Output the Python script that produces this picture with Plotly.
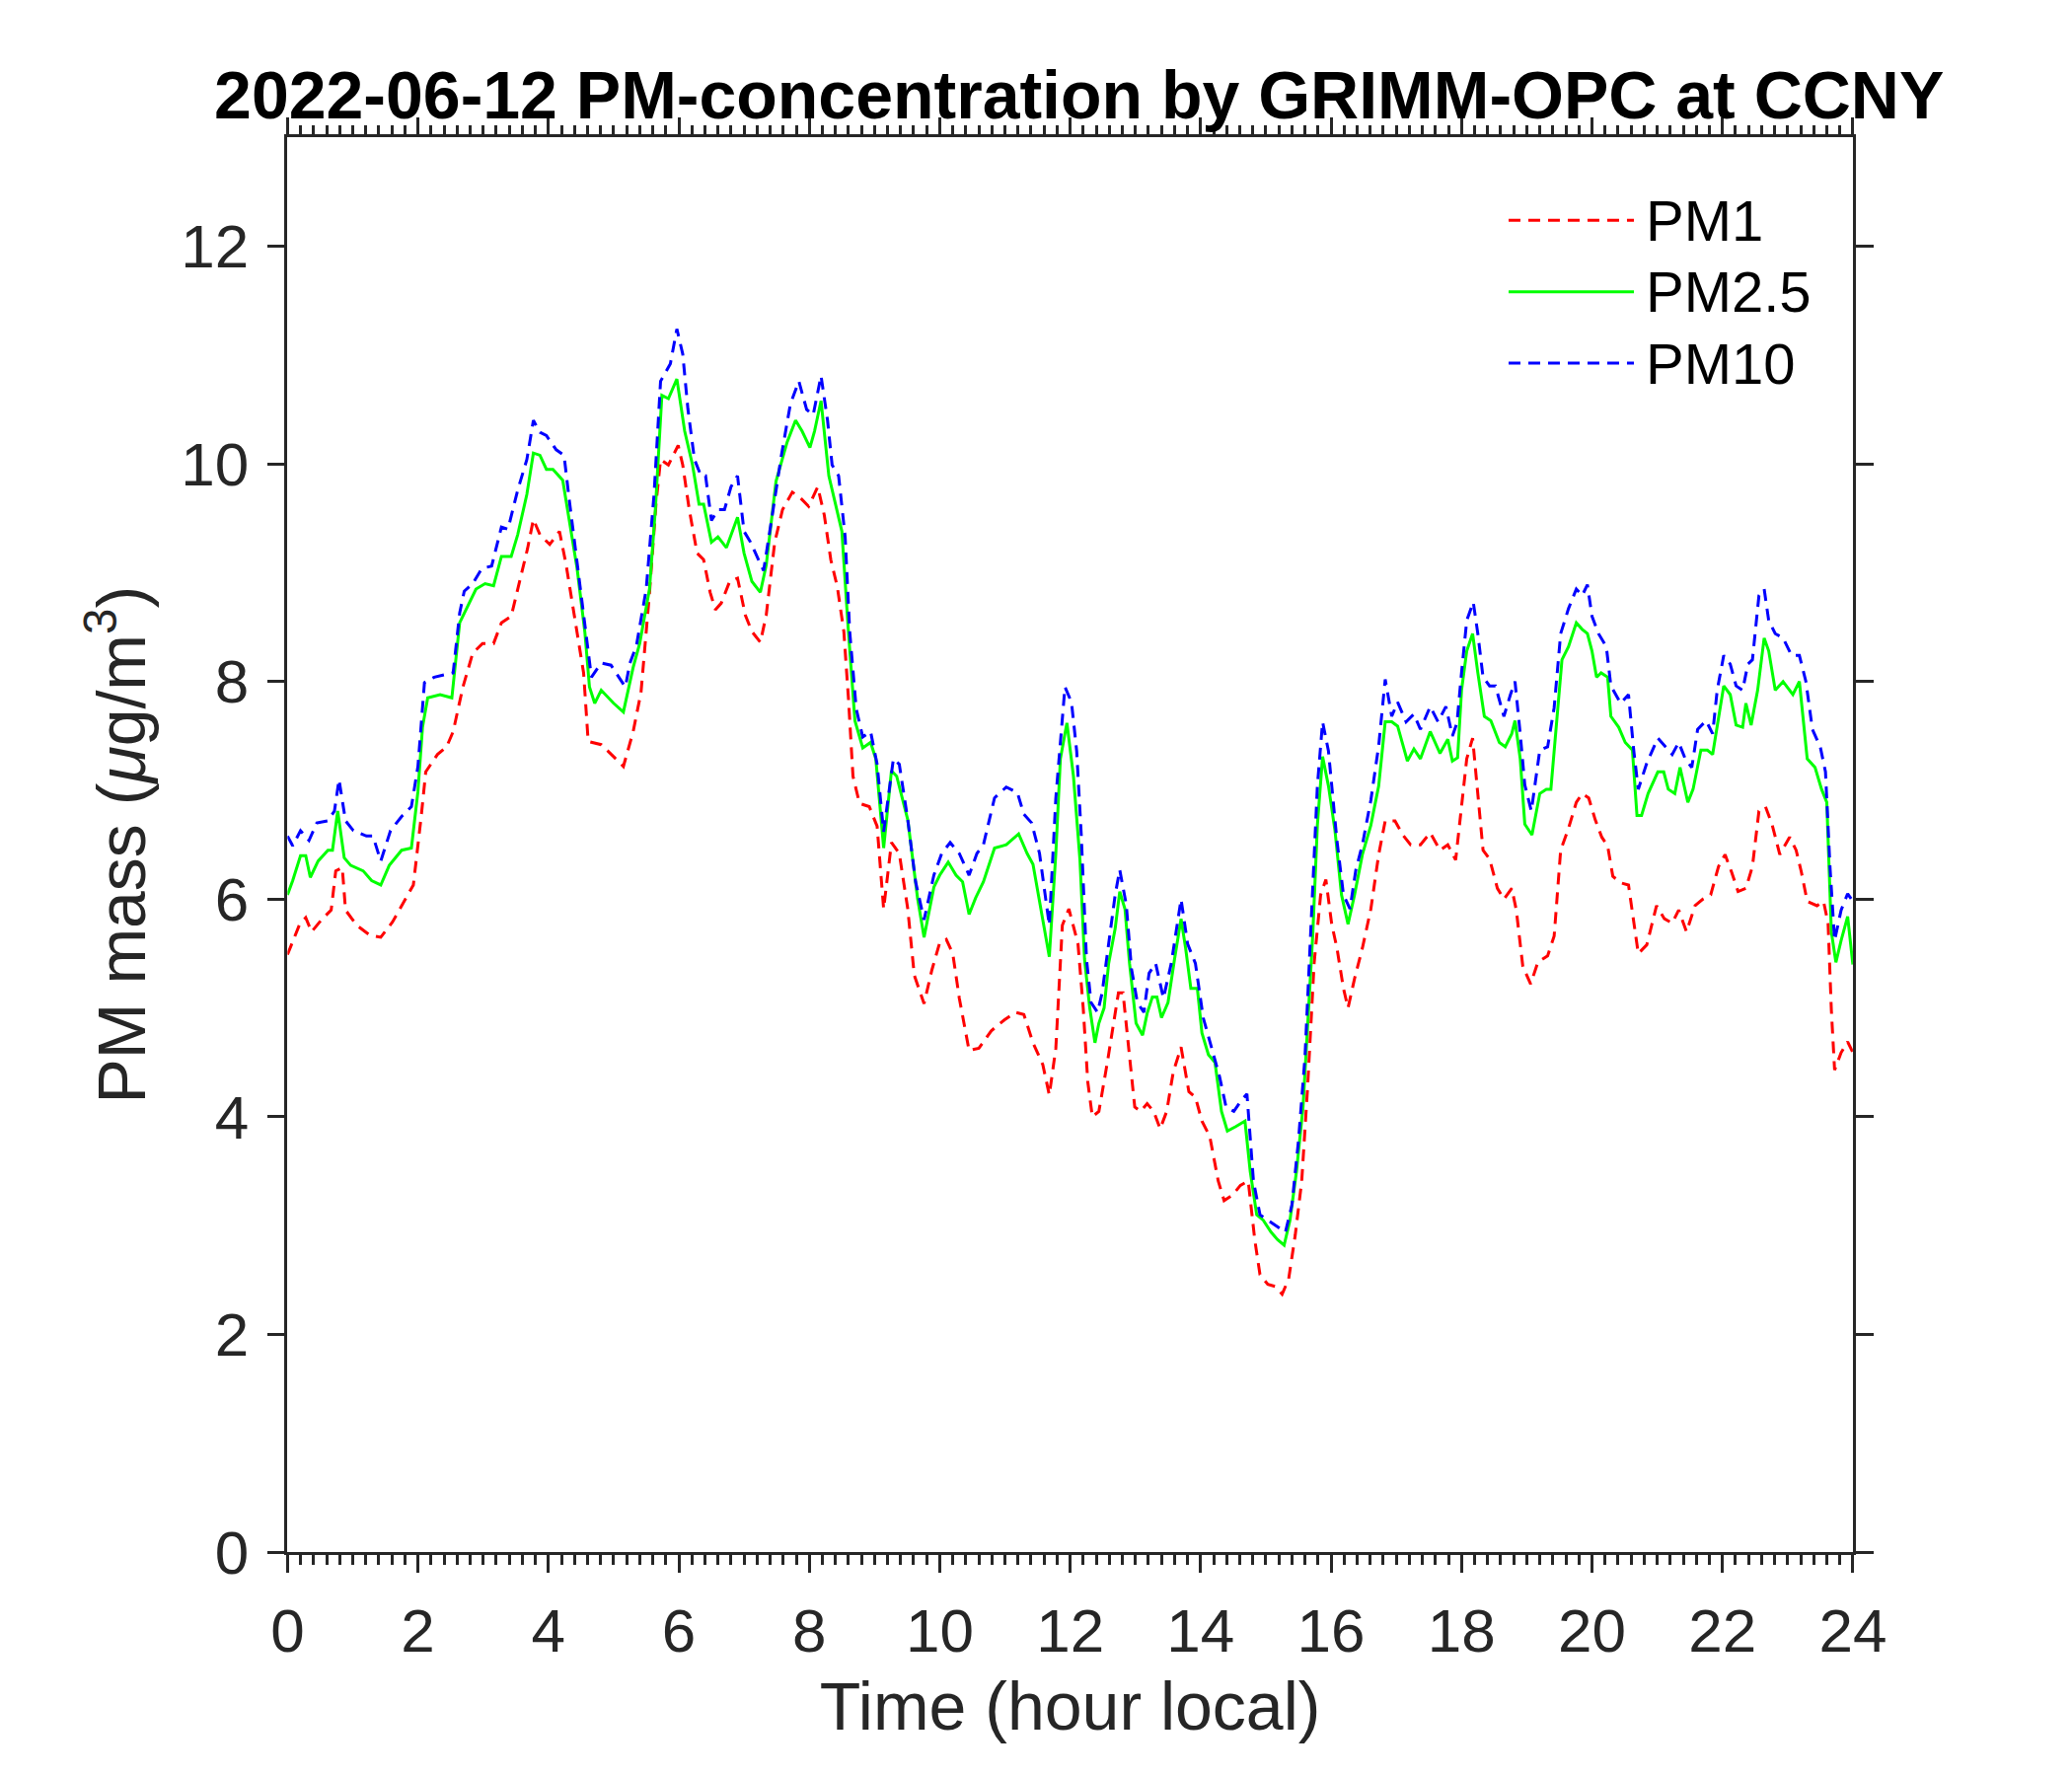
import plotly.graph_objects as go

# PM1 (red, dashed) - hour, ug/m3
t_pm1 = [0, 0.18, 0.28, 0.37, 0.52, 0.67, 0.74, 0.84, 0.89, 1.06, 1.26, 1.43, 1.61, 1.8, 1.93,
         2.05, 2.12, 2.3, 2.44, 2.54, 2.69, 2.84, 2.99, 3.16, 3.28, 3.43, 3.55, 3.68, 3.77, 3.87,
         4.02, 4.17, 4.27, 4.41, 4.54, 4.61, 4.81, 5.0, 5.15, 5.3, 5.42, 5.55, 5.65, 5.72, 5.84,
         5.99, 6.06, 6.16, 6.28, 6.38, 6.48, 6.56, 6.65, 6.78, 6.9, 7.02, 7.12, 7.25, 7.34, 7.47,
         7.59, 7.74, 7.86, 7.99, 8.13, 8.23, 8.33, 8.43, 8.53, 8.6, 8.67, 8.77, 8.92, 9.04, 9.14,
         9.26, 9.38, 9.51, 9.61, 9.76, 9.88, 10.0, 10.1, 10.2, 10.3, 10.45, 10.6, 10.79, 10.99,
         11.16, 11.29, 11.43, 11.58, 11.68, 11.78, 11.88, 11.98, 12.02, 12.12, 12.2, 12.27, 12.34,
         12.44, 12.57, 12.67, 12.74, 12.81, 12.89, 12.99, 13.08, 13.18, 13.28, 13.38, 13.48, 13.58,
         13.7, 13.82, 13.92, 14.02, 14.14, 14.27, 14.36, 14.49, 14.61, 14.73, 14.83, 14.91, 15.03,
         15.15, 15.25, 15.35, 15.45, 15.55, 15.64, 15.74, 15.84, 15.92, 16.01, 16.09, 16.19, 16.26,
         16.36, 16.48, 16.61, 16.73, 16.83, 16.98, 17.1, 17.22, 17.37, 17.52, 17.67, 17.79, 17.91,
         18.0, 18.08, 18.17, 18.25, 18.33, 18.43, 18.55, 18.65, 18.77, 18.84, 18.94, 19.06, 19.17,
         19.32, 19.42, 19.52, 19.64, 19.76, 19.85, 19.95, 20.05, 20.15, 20.24, 20.32, 20.44, 20.56,
         20.64, 20.71, 20.84, 20.99, 21.11, 21.23, 21.33, 21.45, 21.58, 21.7, 21.82, 21.94, 22.04,
         22.14, 22.24, 22.36, 22.46, 22.56, 22.66, 22.76, 22.88, 23.03, 23.13, 23.21, 23.3, 23.45,
         23.55, 23.62, 23.67, 23.72, 23.82, 23.92, 24.0]
pm1 = [5.49, 5.76, 5.83, 5.7, 5.81, 5.9, 6.26, 6.29, 5.9, 5.76, 5.67, 5.65, 5.79, 5.99, 6.13,
       6.76, 7.17, 7.33, 7.4, 7.54, 7.95, 8.26, 8.35, 8.35, 8.54, 8.6, 8.9, 9.22, 9.49, 9.35,
       9.26, 9.38, 9.08, 8.58, 8.08, 7.45, 7.42, 7.31, 7.22, 7.54, 7.9, 8.81, 9.63, 10.04, 9.99,
       10.17, 9.99, 9.58, 9.18, 9.12, 8.82, 8.66, 8.72, 8.92, 8.95, 8.61, 8.46, 8.36, 8.61, 9.28,
       9.58, 9.74, 9.69, 9.61, 9.79, 9.53, 9.12, 8.87, 8.46, 7.85, 7.13, 6.88, 6.85, 6.67, 5.91,
       6.52, 6.42, 5.91, 5.3, 5.04, 5.35, 5.6, 5.63, 5.5, 5.09, 4.61, 4.63, 4.79, 4.89,
       4.96, 4.94, 4.68, 4.48, 4.2, 4.63, 5.76, 5.91, 5.82, 5.59, 5.0, 4.32, 4.0,
       4.05, 4.5, 4.86, 5.14, 5.14, 4.68, 4.09, 4.05, 4.12, 4.05, 3.89, 4.05, 4.41,
       4.64, 4.23, 4.18, 3.96, 3.82, 3.41, 3.23, 3.28, 3.37, 3.41, 2.87, 2.55, 2.46,
       2.44, 2.37, 2.51, 2.91, 3.41, 4.27, 5.41, 6.04, 6.18, 5.77, 5.55, 5.18, 5.0,
       5.27, 5.55, 5.91, 6.41, 6.72, 6.72, 6.59, 6.5, 6.5, 6.61, 6.45, 6.5, 6.36,
       6.85, 7.29, 7.48, 6.97, 6.45, 6.37, 6.1, 6.0, 6.1, 5.9, 5.38, 5.22, 5.42,
       5.48, 5.66, 6.45, 6.65, 6.89, 6.97, 6.93, 6.73, 6.57, 6.49, 6.21, 6.15, 6.13,
       5.78, 5.5, 5.58, 5.94, 5.82, 5.78, 5.9, 5.7, 5.94, 6.0, 6.04, 6.3, 6.41,
       6.25, 6.07, 6.1, 6.3, 6.81, 6.85, 6.69, 6.41, 6.57, 6.45, 6.25, 5.98, 5.94,
       5.98, 5.78, 4.98, 4.43, 4.59, 4.69, 4.59]

# PM2.5 (green, solid)
t_pm25 = [0, 0.08, 0.2, 0.28, 0.35, 0.47, 0.62, 0.69, 0.77, 0.87, 0.97, 1.16, 1.29, 1.43, 1.56,
          1.75, 1.9, 2.0, 2.07, 2.15, 2.34, 2.52, 2.64, 2.74, 2.89, 3.03, 3.16, 3.28, 3.43, 3.53,
          3.67, 3.77, 3.87, 3.97, 4.07, 4.22, 4.32, 4.44, 4.56, 4.63, 4.71, 4.81, 5.0, 5.15, 5.3,
          5.4, 5.55, 5.64, 5.74, 5.84, 5.97, 6.09, 6.21, 6.31, 6.38, 6.5, 6.6, 6.73, 6.9, 7.0,
          7.12, 7.25, 7.34, 7.49, 7.66, 7.79, 7.89, 8.01, 8.08, 8.18, 8.3, 8.4, 8.5, 8.6, 8.7,
          8.82, 8.94, 9.02, 9.14, 9.26, 9.34, 9.51, 9.66, 9.76, 9.91, 10.0, 10.13, 10.25, 10.35,
          10.45, 10.55, 10.67, 10.84, 11.02, 11.21, 11.34, 11.43, 11.58, 11.68, 11.78, 11.85, 11.95,
          12.05, 12.15, 12.22, 12.3, 12.38, 12.44, 12.52, 12.59, 12.69, 12.76, 12.84, 12.91, 13.01,
          13.11, 13.18, 13.26, 13.33, 13.4, 13.5, 13.6, 13.7, 13.77, 13.85, 13.95, 14.02, 14.12,
          14.22, 14.32, 14.41, 14.54, 14.68, 14.76, 14.86, 14.96, 15.08, 15.18, 15.28, 15.37, 15.47,
          15.57, 15.64, 15.72, 15.79, 15.87, 15.96, 16.06, 16.16, 16.26, 16.36, 16.48, 16.61, 16.73,
          16.83, 16.93, 17.02, 17.17, 17.27, 17.37, 17.52, 17.67, 17.79, 17.86, 17.94, 18.0, 18.08,
          18.17, 18.25, 18.35, 18.45, 18.58, 18.67, 18.77, 18.82, 18.9, 18.97, 19.08, 19.2, 19.3,
          19.37, 19.44, 19.54, 19.64, 19.76, 19.85, 19.93, 20.0, 20.07, 20.14, 20.24, 20.29, 20.41,
          20.51, 20.62, 20.69, 20.76, 20.86, 21.01, 21.1, 21.17, 21.27, 21.35, 21.47, 21.55, 21.67,
          21.77, 21.85, 21.92, 22.02, 22.12, 22.21, 22.31, 22.36, 22.44, 22.54, 22.64, 22.71, 22.81,
          22.93, 23.08, 23.18, 23.3, 23.42, 23.52, 23.6, 23.67, 23.74, 23.82, 23.92, 24.0]
pm25 = [6.04, 6.17, 6.4, 6.4, 6.2, 6.35, 6.45, 6.45, 6.81, 6.38, 6.31, 6.26, 6.17, 6.13, 6.31,
        6.45, 6.47, 6.99, 7.58, 7.85, 7.88, 7.85, 8.54, 8.67, 8.85, 8.9, 8.88, 9.15, 9.15, 9.35,
        9.72, 10.1, 10.08, 9.95, 9.95, 9.85, 9.49, 9.04, 8.45, 7.95, 7.8, 7.92, 7.8, 7.72, 8.13,
        8.35, 8.85, 9.58, 10.63, 10.6, 10.78, 10.3, 9.99, 9.63, 9.63, 9.28, 9.33, 9.23, 9.51, 9.18,
        8.92, 8.82, 9.07, 9.84, 10.2, 10.4, 10.3, 10.15, 10.3, 10.58, 9.89, 9.63, 9.38, 8.46, 7.64,
        7.39, 7.44, 7.29, 6.47, 7.18, 7.13, 6.73, 6.01, 5.65, 6.11, 6.22, 6.34, 6.22, 6.16,
        5.86, 6.01, 6.16, 6.47, 6.5, 6.6, 6.42, 6.32, 5.81, 5.47, 6.42, 7.29, 7.62,
        7.13, 6.36, 5.45, 5.0, 4.68, 4.86, 5.0, 5.41, 5.73, 6.07, 5.91, 5.41, 4.86,
        4.75, 4.95, 5.1, 5.1, 4.91, 5.05, 5.45, 5.82, 5.55, 5.18, 5.18, 4.77, 4.57,
        4.5, 4.05, 3.87, 3.91, 3.96, 3.5, 3.1, 3.05, 2.94, 2.87, 2.82, 3.05, 3.5,
        4.09, 4.86, 5.68, 6.68, 7.31, 7.04, 6.63, 6.04, 5.77, 6.04, 6.41, 6.68, 7.04,
        7.63, 7.63, 7.59, 7.27, 7.38, 7.29, 7.54, 7.34, 7.47, 7.27, 7.3, 7.92, 8.28,
        8.44, 8.08, 7.68, 7.64, 7.44, 7.4, 7.52, 7.64, 7.29, 6.69, 6.59, 6.97, 7.01,
        7.01, 7.52, 8.2, 8.32, 8.54, 8.48, 8.44, 8.28, 8.04, 8.08, 8.04, 7.68, 7.58,
        7.44, 7.37, 6.77, 6.77, 6.97, 7.17, 7.17, 7.01, 6.97, 7.21, 6.89, 7.01, 7.37,
        7.37, 7.33, 7.6, 7.96, 7.88, 7.6, 7.58, 7.8, 7.6, 7.92, 8.4, 8.28, 7.92,
        8.0, 7.88, 8.0, 7.29, 7.21, 7.01, 6.89, 5.7, 5.42, 5.62, 5.84, 5.4]

# PM10 (blue, dashed)
t_pm10 = [0, 0.08, 0.2, 0.33, 0.45, 0.62, 0.72, 0.79, 0.89, 1.01, 1.21, 1.31, 1.43, 1.58, 1.75,
          1.9, 2.0, 2.1, 2.25, 2.39, 2.54, 2.64, 2.71, 2.84, 2.98, 3.13, 3.28, 3.38, 3.53, 3.67,
          3.77, 3.87, 3.97, 4.12, 4.24, 4.32, 4.46, 4.59, 4.66, 4.81, 4.96, 5.18, 5.25, 5.35, 5.5,
          5.62, 5.72, 5.87, 5.97, 6.06, 6.14, 6.24, 6.34, 6.41, 6.5, 6.6, 6.7, 6.8, 6.9, 7.0,
          7.1, 7.22, 7.3, 7.42, 7.57, 7.71, 7.84, 7.96, 8.06, 8.18, 8.28, 8.35, 8.45, 8.55, 8.62,
          8.72, 8.82, 8.94, 9.04, 9.14, 9.29, 9.38, 9.51, 9.63, 9.76, 9.91, 10.03, 10.16, 10.3,
          10.45, 10.57, 10.67, 10.84, 11.02, 11.19, 11.29, 11.41, 11.53, 11.68, 11.78, 11.92, 12.02,
          12.1, 12.17, 12.25, 12.32, 12.42, 12.49, 12.59, 12.69, 12.76, 12.86, 12.94, 13.03, 13.13,
          13.21, 13.31, 13.43, 13.55, 13.7, 13.8, 13.92, 14.04, 14.17, 14.29, 14.39, 14.51, 14.61,
          14.71, 14.81, 14.91, 15.03, 15.15, 15.3, 15.4, 15.5, 15.6, 15.69, 15.79, 15.87, 15.96,
          16.09, 16.19, 16.29, 16.38, 16.48, 16.61, 16.73, 16.83, 16.93, 17.02, 17.15, 17.27, 17.37,
          17.52, 17.64, 17.76, 17.86, 17.93, 18.0, 18.08, 18.18, 18.25, 18.33, 18.43, 18.52, 18.65,
          18.75, 18.82, 18.9, 18.97, 19.07, 19.2, 19.32, 19.42, 19.52, 19.64, 19.76, 19.85, 19.93,
          20.0, 20.1, 20.22, 20.29, 20.44, 20.56, 20.64, 20.71, 20.84, 21.01, 21.13, 21.23, 21.33,
          21.43, 21.53, 21.62, 21.75, 21.85, 21.92, 22.02, 22.12, 22.21, 22.31, 22.39, 22.46, 22.56,
          22.64, 22.71, 22.81, 22.93, 23.06, 23.18, 23.28, 23.38, 23.5, 23.58, 23.65, 23.72, 23.82,
          23.92, 24.0]
pm10 = [6.58, 6.49, 6.63, 6.54, 6.7, 6.72, 6.81, 7.1, 6.72, 6.63, 6.58, 6.58, 6.35, 6.63, 6.76,
        6.85, 7.22, 7.99, 8.04, 8.06, 8.08, 8.63, 8.83, 8.9, 9.04, 9.06, 9.42, 9.4, 9.76, 10.04,
        10.4, 10.29, 10.26, 10.13, 10.08, 9.67, 8.99, 8.35, 8.04, 8.17, 8.15, 7.95, 8.17, 8.33, 8.85,
        9.72, 10.76, 10.92, 11.24, 11.01, 10.5, 10.04, 9.89, 9.89, 9.48, 9.58, 9.58, 9.79, 9.89, 9.38,
        9.28, 9.12, 9.02, 9.48, 10.07, 10.55, 10.76, 10.5, 10.45, 10.81, 10.4, 9.99, 9.89, 9.33, 8.46,
        7.75, 7.49, 7.54, 7.24, 6.62, 7.29, 7.24, 6.73, 6.16, 5.81, 6.22, 6.42, 6.52, 6.42,
        6.22, 6.42, 6.5, 6.93, 7.03, 6.98, 6.78, 6.7, 6.42, 5.76, 6.93, 7.95, 7.81,
        7.36, 6.59, 5.45, 5.05, 4.96, 5.14, 5.59, 6.04, 6.27, 5.95, 5.36, 5.05, 4.96,
        5.32, 5.41, 5.09, 5.41, 6.0, 5.59, 5.41, 4.91, 4.64, 4.37, 4.09, 4.05, 4.14,
        4.21, 3.41, 3.1, 3.05, 3.0, 2.94, 3.19, 3.78, 4.55, 5.77, 7.04, 7.63, 7.36,
        6.54, 6.04, 5.91, 6.27, 6.5, 6.91, 7.41, 8.02, 7.68, 7.81, 7.63, 7.7, 7.56,
        7.77, 7.63, 7.77, 7.5, 7.62, 8.08, 8.56, 8.73, 8.44, 8.04, 7.96, 7.96, 7.68,
        7.88, 8.0, 7.52, 7.05, 6.81, 7.37, 7.4, 7.76, 8.44, 8.67, 8.85, 8.79, 8.89,
        8.6, 8.44, 8.32, 7.96, 7.8, 7.88, 7.37, 7.01, 7.25, 7.48, 7.4, 7.33, 7.44,
        7.29, 7.21, 7.56, 7.64, 7.52, 7.92, 8.24, 8.16, 7.96, 7.92, 8.16, 8.2, 8.79,
        8.85, 8.56, 8.44, 8.4, 8.24, 8.24, 8.0, 7.56, 7.4, 7.17, 6.29, 5.62, 5.9,
        6.05, 5.98]

x_ticks = list(range(0, 25, 2))
y_ticks = list(range(0, 13, 2))

series = [
    ("PM1", t_pm1, pm1, "#ff0000", "12px,8px"),
    ("PM2.5", t_pm25, pm25, "#00ff00", "solid"),
    ("PM10", t_pm10, pm10, "#0000ff", "12px,8px"),
]

FONT = "Liberation Sans, Arial, sans-serif"
AX = "#262626"

fig = go.Figure()
for name, t, v, color, dash in series:
    fig.add_trace(go.Scatter(x=t, y=v, mode="lines", name=name, showlegend=False,
                             line=dict(color=color, width=3, dash=dash)))

# legend drawn by hand (MATLAB style long line samples, no box)
leg_y = [0.878, 0.837, 0.796]
for (name, t, v, color, dash), yy in zip(series, leg_y):
    fig.add_shape(type="line", xref="paper", yref="paper", x0=0.734, x1=0.796, y0=yy, y1=yy,
                  line=dict(color=color, width=3, dash=dash))
    fig.add_annotation(xref="paper", yref="paper", x=0.801, y=yy, text=name, showarrow=False,
                       xanchor="left", yanchor="middle", font=dict(size=58, color="black", family=FONT))

axis_common = dict(
    showline=True, linecolor=AX, linewidth=2.5, mirror="allticks",
    ticks="outside", ticklen=18, tickwidth=2.5, tickcolor=AX,
    showgrid=False, zeroline=False,
    tickfont=dict(size=62, color=AX, family=FONT),
)

fig.update_xaxes(range=[0, 24], tickvals=x_ticks, domain=[0.13, 0.9043],
                 minor=dict(dtick=0.2, ticks="outside", ticklen=10, tickwidth=2.5, tickcolor=AX, showgrid=False),
                 ticklabelstandoff=6,
                 title=dict(text="Time (hour local)", font=dict(size=68, color=AX, family=FONT), standoff=20),
                 **axis_common)
fig.update_yaxes(range=[0, 13], tickvals=y_ticks, domain=[0.1133, 0.9256],
                 ticklabelstandoff=6,
                 title=dict(text="PM mass (<i>μ</i>g/m<sup>3</sup>)", font=dict(size=68, color=AX, family=FONT),
                            standoff=14),
                 **axis_common)

fig.update_layout(
    width=2100, height=1800, autosize=False,
    margin=dict(l=0, r=0, t=0, b=0),
    paper_bgcolor="white", plot_bgcolor="white",
    title=dict(text="<b>2022-06-12 PM-concentration by GRIMM-OPC at CCNY</b>",
               x=0.517, xanchor="center", y=0.951, yanchor="middle",
               font=dict(size=68, color="black", family=FONT)),
)

fig.write_html("out.html")
